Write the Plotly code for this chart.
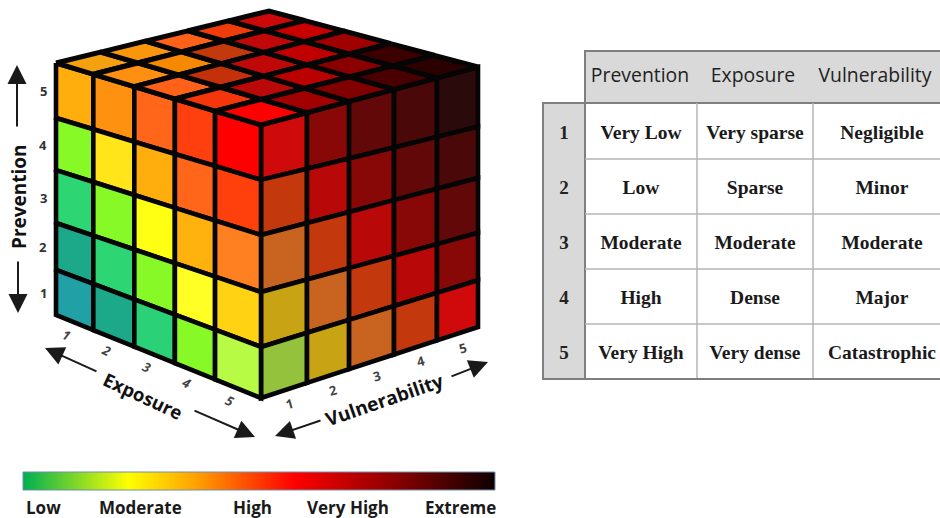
import numpy as np
import plotly.graph_objects as go

# ---------- data ----------
levels = ["1", "2", "3", "4", "5"]
# left face: rows Prevention 5..1, columns Exposure 1..5
exposure_face = [
    ["#FFAE0E", "#FF9110", "#FF661A", "#FF3F0D", "#FF0000"],
    ["#86F926", "#FFE51A", "#FFAE0E", "#FF661A", "#FF400D"],
    ["#2DD673", "#86F926", "#FFFF14", "#FFB20E", "#FF8020"],
    ["#1BA98A", "#2DD673", "#86F926", "#FFFF26", "#FFD314"],
    ["#21A1A5", "#1BA98A", "#2AD176", "#86F926", "#B8FB45"],
]
# right face: rows Prevention 5..1, columns Vulnerability 1..5
vulnerability_face = [
    ["#CF0A0A", "#880808", "#620808", "#4A0808", "#2A0A0A"],
    ["#C4380D", "#B80808", "#880808", "#620808", "#4A0808"],
    ["#C86420", "#C4380D", "#B80808", "#880808", "#620808"],
    ["#C8A414", "#C86420", "#C4380D", "#B80808", "#880808"],
    ["#94C23C", "#C8A414", "#C86420", "#C4380D", "#D00A0A"],
]
# top face: first index Exposure 1..5, second index Vulnerability 1..5
top_face = [
    ["#F5A00E", "#F9960E", "#FF6118", "#F03C0A", "#CC0808"],
    ["#FF8F10", "#F58A00", "#C4380D", "#C00808", "#C80000"],
    ["#FF6118", "#C4300A", "#C00808", "#C00000", "#A00000"],
    ["#F5360A", "#BB0808", "#BB0000", "#8A0000", "#3C0000"],
    ["#FF0000", "#A00000", "#800000", "#4A0000", "#2A0000"],
]
table_columns = ["Prevention", "Exposure", "Vulnerability"]
prevention_terms = ["Very Low", "Low", "Moderate", "High", "Very High"]
exposure_terms = ["Very sparse", "Sparse", "Moderate", "Dense", "Very dense"]
vulnerability_terms = ["Negligible", "Minor", "Moderate", "Major", "Catastrophic"]
scale_labels = ["Low", "Moderate", "High", "Very High", "Extreme"]
scale_stops = [[0, "#00B050"], [0.222, "#FFFF00"], [0.36, "#FFA500"], [0.575, "#FF0000"],
               [0.79, "#8B0000"], [1, "#100000"]]

# ---------- geometry ----------
L, F, B, R = (56, 63), (261, 125), (269, 11), (478, 67)
LB, FB, RB = (56, 315), (261, 398), (478, 327)
U_LEFT = [0, .182, .382, .58, .776, 1]
U_RIGHT = [0, .212, .406, .613, .811, 1]
V_L = [0, .218, .425, .635, .821, 1]
V_F = [0, .201, .403, .612, .813, 1]
V_R = [0, .23, .427, .638, .82, 1]
U_TOPFAR = [0, .17, .36, .58, .79, 1]
V_TOP = [0, .21, .42, .62, .81, 1]


def grid(c00, c10, c01, c11, ua, ub, va, vb):
    c00, c10, c01, c11 = map(np.array, (c00, c10, c01, c11))
    def P(i, j):
        u, v = ua[i], va[j]
        for _ in range(4):
            u = ua[i] + (ub[i] - ua[i]) * v
            v = va[j] + (vb[j] - va[j]) * u
        return (1-u)*(1-v)*c00 + u*(1-v)*c10 + (1-u)*v*c01 + u*v*c11
    return P


left = grid(L, F, LB, FB, U_LEFT, U_LEFT, V_L, V_F)
right = grid(F, R, FB, RB, U_RIGHT, U_RIGHT, V_F, V_R)
top = grid(L, F, B, R, U_LEFT, U_TOPFAR, V_TOP, U_RIGHT)

fig = go.Figure()
# gradient scale
BAR_X0, BAR_X1, BAR_Y0, BAR_Y1 = 23, 495, 472, 490
n = 236
fig.add_trace(go.Heatmap(z=[list(range(n))],
                         x=list(np.linspace(BAR_X0, BAR_X1, n + 1)), y=[BAR_Y0, BAR_Y1],
                         colorscale=scale_stops, showscale=False, hoverinfo="skip"))


def add_cell(P, i, j, color, width):
    pts = [P(i, j), P(i+1, j), P(i+1, j+1), P(i, j+1), P(i, j)]
    fig.add_trace(go.Scatter(x=[p[0] for p in pts], y=[p[1] for p in pts], mode="lines",
                             fill="toself", fillcolor=color,
                             line=dict(color="#050505", width=width), hoverinfo="skip"))


for j in range(5):
    for i in range(5):
        add_cell(left, i, j, exposure_face[j][i], 4.6)
        add_cell(right, i, j, vulnerability_face[j][i], 4.6)
        add_cell(top, i, j, top_face[i][j], 5)

# table text
COLS = [641, 755, 882]
ROWS = [134, 189, 244, 299, 354]
fig.add_trace(go.Scatter(x=[564]*5, y=ROWS, mode="text", text=levels,
                         textfont=dict(family="Liberation Serif", size=19, color="#222", weight="bold"),
                         hoverinfo="skip"))
for cx, terms in zip(COLS, (prevention_terms, exposure_terms, vulnerability_terms)):
    fig.add_trace(go.Scatter(x=[cx]*5, y=ROWS, mode="text", text=terms,
                             textfont=dict(family="Liberation Serif", size=19.5, color="#1a1a1a", weight="bold"),
                             hoverinfo="skip"))
fig.add_trace(go.Scatter(x=[640, 753, 875], y=[77]*3, mode="text", text=table_columns,
                         textfont=dict(family="Open Sans", size=19.4, color="#222"), hoverinfo="skip"))

# table shapes
shapes = [
    dict(type="rect", x0=585, x1=944, y0=51, y1=103, fillcolor="#D9D9D9", line=dict(color="#7F7F7F", width=2), layer="below"),
    dict(type="rect", x0=543, x1=585, y0=103, y1=379, fillcolor="#D9D9D9", line=dict(color="#7F7F7F", width=2), layer="below"),
]
for y in (159, 214, 269, 324):
    shapes.append(dict(type="line", x0=585, x1=940, y0=y, y1=y, line=dict(color="#B5B5B5", width=1.5), layer="below"))
for x in (697, 813):
    shapes.append(dict(type="line", x0=x, x1=x, y0=103, y1=379, line=dict(color="#B5B5B5", width=1.5), layer="below"))
shapes.append(dict(type="line", x0=585, x1=940, y0=379, y1=379, line=dict(color="#7F7F7F", width=2), layer="below"))
shapes.append(dict(type="rect", x0=BAR_X0, x1=BAR_X1, y0=BAR_Y0, y1=BAR_Y1, line=dict(color="#6F8FAF", width=1)))

ann = []
def label(x, y, text, size=12, angle=0, color="#333", weight="bold", family="Open Sans", style="normal"):
    ann.append(dict(x=x, y=y, xref="x", yref="y", text=text, showarrow=False, textangle=angle,
                    xanchor="center", yanchor="middle",
                    font=dict(size=size, color=color, weight=weight, family=family, style=style)))

def arrow(x0, y0, x1, y1):
    ann.append(dict(x=x1, y=y1, ax=x0, ay=y0, xref="x", yref="y", axref="x", ayref="y", text="",
                    showarrow=True, arrowhead=2, arrowsize=1.9, arrowwidth=2, arrowcolor="#1a1a1a"))

for k in range(5):
    row = 4 - k
    pm = (left(0, row) + left(0, row+1)) / 2
    label(pm[0]-13, pm[1]+1, levels[k], size=13)
    em = (left(k, 5) + left(k+1, 5)) / 2
    label(em[0]-8, em[1]+12, levels[k], size=13, angle=25, style="italic", color="#444")
    vm = (right(k, 5) + right(k+1, 5)) / 2
    label(vm[0]+5, vm[1]+14, levels[k], size=13, angle=-15, color="#444")

label(19, 197, "Prevention", size=19, angle=-90, color="#111", weight="bold")
label(143, 395, "Exposure", size=18.5, angle=25, color="#111", weight="bold")
label(384, 400, "Vulnerability", size=19, angle=-19, color="#111", weight="bold")
arrow(17, 128, 17, 65)
arrow(18, 260, 18, 313)
arrow(98, 372, 45, 348)
arrow(193, 410, 255, 437)
arrow(322, 420, 275, 436)
arrow(450, 377, 488, 362)

for x, t in zip([43, 140, 252, 348, 460], scale_labels):
    label(x, 507, t, size=17, color="#1a1a1a", weight="bold")

fig.update_layout(
    width=940, height=518, margin=dict(l=0, r=0, t=0, b=0), showlegend=False,
    paper_bgcolor="white", plot_bgcolor="white", shapes=shapes, annotations=ann,
    xaxis=dict(range=[0, 940], visible=False, fixedrange=True),
    yaxis=dict(range=[518, 0], visible=False, fixedrange=True),
)
fig.write_html("out.html", config=dict(displayModeBar=False),
               post_script="document.body.style.margin='0';document.body.style.overflow='hidden';")
